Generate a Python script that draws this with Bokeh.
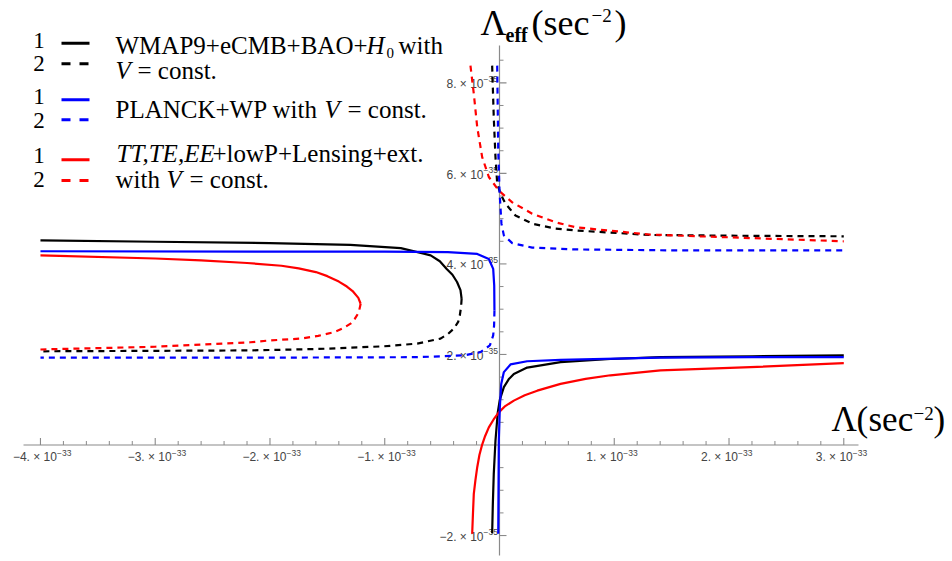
import numpy as np
from bokeh.plotting import figure
from bokeh.models import Range1d
from bokeh.core.properties import value
from bokeh.embed import file_html
from bokeh.resources import INLINE

# ---------------- DATA ----------------
# Lambda in units of 1e-33 sec^-2, Lambda_eff in units of 1e-35 sec^-2

# WMAP9+eCMB+BAO+H0 (black)
wmap_left_solid_x = [-4.0, -3.0, -2.0, -1.3, -0.86, -0.6, -0.52, -0.46, -0.41, -0.37, -0.34, -0.33]
wmap_left_solid_y = [4.52, 4.49, 4.46, 4.42, 4.35, 4.19, 4.06, 3.89, 3.76, 3.60, 3.42, 3.23]
wmap_left_dash_x = [-0.33, -0.335, -0.346, -0.36, -0.398, -0.45, -0.514, -0.717, -1.008, -1.59, -2.17, -3.0, -4.0]
wmap_left_dash_y = [3.23, 3.05, 2.86, 2.72, 2.57, 2.45, 2.35, 2.24, 2.18, 2.12, 2.09, 2.08, 2.07]
wmap_right_solid_x = [-0.064, -0.058, -0.050, -0.035, -0.015, 0.003, 0.038, 0.08, 0.125, 0.241, 0.532, 0.967, 1.403, 2.2, 3.0]
wmap_right_solid_y = [-1.95, -1.30, -0.64, 0.10, 0.72, 1.00, 1.28, 1.45, 1.57, 1.71, 1.83, 1.90, 1.94, 1.96, 1.98]
wmap_right_dash_x = [-0.064, -0.050, -0.035, -0.020, 0.009, 0.052, 0.139, 0.285, 0.488, 0.662, 1.3, 2.2, 3.0]
wmap_right_dash_y = [8.38, 7.24, 6.36, 5.77, 5.55, 5.33, 5.07, 4.89, 4.78, 4.74, 4.64, 4.62, 4.61]

# PLANCK+WP (blue)
planck_left_solid_x = [-4.0, -2.0, -1.0, -0.45, -0.194, -0.093, -0.055, -0.046, -0.044]
planck_left_solid_y = [4.28, 4.27, 4.27, 4.26, 4.22, 4.11, 3.89, 3.52, 2.97]
planck_left_dash_x = [-0.044, -0.047, -0.055, -0.084, -0.166, -0.311, -0.717, -2.0, -4.0]
planck_left_dash_y = [2.97, 2.65, 2.42, 2.20, 2.05, 1.98, 1.94, 1.93, 1.93]
planck_right_solid_x = [-0.011, -0.006, 0.003, 0.015, 0.038, 0.096, 0.241, 0.532, 1.403, 2.2, 3.0]
planck_right_solid_y = [-1.96, 0.10, 0.84, 1.35, 1.61, 1.78, 1.85, 1.88, 1.93, 1.94, 1.94]
planck_right_dash_x = [-0.020, -0.011, 0.0, 0.017, 0.038, 0.111, 0.285, 0.662, 1.5, 3.0]
planck_right_dash_y = [8.38, 6.51, 5.62, 4.89, 4.63, 4.46, 4.36, 4.32, 4.30, 4.30]

# TT,TE,EE+lowP+Lensing+ext. (red)
tt_left_solid_x = [-4.0, -3.0, -2.6, -2.2, -1.9, -1.75, -1.6, -1.5, -1.4, -1.33, -1.28, -1.23, -1.21]
tt_left_solid_y = [4.19, 4.12, 4.08, 4.02, 3.96, 3.90, 3.82, 3.73, 3.61, 3.50, 3.40, 3.25, 3.12]
tt_left_dash_x = [-1.21, -1.226, -1.26, -1.298, -1.37, -1.444, -1.58, -1.734, -2.0, -2.17, -3.0, -4.0]
tt_left_dash_y = [3.12, 2.93, 2.79, 2.68, 2.57, 2.49, 2.41, 2.35, 2.31, 2.27, 2.17, 2.11]
tt_right_solid_x = [-0.238, -0.231, -0.224, -0.21, -0.194, -0.175, -0.151, -0.125, -0.093, -0.05, -0.006,
                    0.05, 0.125, 0.22, 0.329, 0.532, 0.75, 0.967, 1.403, 2.187, 3.0]
tt_right_solid_y = [-1.96, -1.50, -1.08, -0.78, -0.49, -0.22, 0.01, 0.20, 0.39, 0.57, 0.72,
                    0.86, 0.98, 1.10, 1.20, 1.35, 1.46, 1.54, 1.65, 1.72, 1.81]
tt_right_dash_x = [-0.253, -0.224, -0.194, -0.151, -0.093, -0.006, 0.111, 0.285, 0.488, 0.662, 1.3, 2.2, 3.0]
tt_right_dash_y = [8.38, 7.76, 7.02, 6.36, 5.92, 5.62, 5.36, 5.11, 4.92, 4.81, 4.65, 4.57, 4.50]

x_major_ticks = [-4, -3, -2, -1, 1, 2, 3]
x_tick_mantissa = ["−4. × 10", "−3. × 10", "−2. × 10", "−1. × 10", "1. × 10", "2. × 10", "3. × 10"]
x_tick_exponent = "−33"
y_major_ticks = [-2, 2, 4, 6, 8]
y_tick_mantissa = ["−2. × 10", "2. × 10", "4. × 10", "6. × 10", "8. × 10"]
y_tick_exponent = "−35"

# ---------------- LAYOUT ----------------
W, H = 952, 561
PXX = 114.76   # px per x unit
PXY = 45.27    # px per y unit
OX, OY = 499.0, 444.5  # origin pixel
x_lo, x_hi = -OX / PXX, (W - OX) / PXX
y_lo, y_hi = -(H - OY) / PXY, OY / PXY


def sx(px):
    return x_lo + px / PXX


def sy(py):
    return y_hi - py / PXY


BASE_SHIFT = 0.36  # svg alphabetic baseline correction (em)


def by(py, fs):
    return sy(py - BASE_SHIFT * fs)


p = figure(width=W, height=H, x_range=Range1d(x_lo, x_hi), y_range=Range1d(y_lo, y_hi),
           output_backend="svg", toolbar_location=None,
           x_axis_location=None, y_axis_location=None, min_border=0)
p.outline_line_color = None
p.grid.visible = False
p.background_fill_color = "white"

AXIS_COLOR = "#8a8a8a"
LABEL_COLOR = "#444444"
SANS = value("Liberation Sans")

# axes
p.segment(x0=[sx(23), 0], y0=[0, sy(555)], x1=[sx(858), 0], y1=[0, sy(45)],
          line_color=AXIS_COLOR, line_width=1.2)

x_minor = [v for v in np.round(np.arange(-4.0, 3.01, 0.2), 2) if abs(v - round(v)) > 1e-6]
y_minor = [v for v in np.arange(-2.0, 8.51, 0.5) if abs(v) > 1e-6 and abs(v / 2 - round(v / 2)) > 1e-6]

p.segment(x0=x_major_ticks, y0=[0] * len(x_major_ticks), x1=x_major_ticks,
          y1=[7 / PXY] * len(x_major_ticks), line_color=AXIS_COLOR, line_width=1.1)
p.segment(x0=x_minor, y0=[0] * len(x_minor), x1=x_minor, y1=[4 / PXY] * len(x_minor),
          line_color=AXIS_COLOR, line_width=1)
p.segment(x0=[0] * len(y_major_ticks), y0=y_major_ticks, x1=[7 / PXX] * len(y_major_ticks),
          y1=y_major_ticks, line_color=AXIS_COLOR, line_width=1.1)
p.segment(x0=[0] * len(y_minor), y0=y_minor, x1=[4 / PXX] * len(y_minor), y1=y_minor,
          line_color=AXIS_COLOR, line_width=1)

# x tick labels: mantissa right-aligned, exponent left-aligned at a split point
x_split = [t + (16.5 if t < 0 else 9.0) / PXX for t in x_major_ticks]
p.text(x=x_split, y=[-12 / PXY] * len(x_major_ticks), text=x_tick_mantissa,
       text_font=SANS, text_font_size="12px", text_color=LABEL_COLOR,
       text_align="right", text_baseline="middle")
p.text(x=x_split, y=[-7.5 / PXY] * len(x_major_ticks), text=[x_tick_exponent] * len(x_major_ticks),
       text_font=SANS, text_font_size="8.5px", text_color=LABEL_COLOR,
       text_align="left", text_baseline="middle")
# y tick labels
y_split = [-16 / PXX] * len(y_major_ticks)
p.text(x=y_split, y=[t - 1.5 / PXY for t in y_major_ticks], text=y_tick_mantissa,
       text_font=SANS, text_font_size="12px", text_color=LABEL_COLOR,
       text_align="right", text_baseline="middle")
p.text(x=y_split, y=[t + 3.5 / PXY for t in y_major_ticks], text=[y_tick_exponent] * len(y_major_ticks),
       text_font=SANS, text_font_size="8.5px", text_color=LABEL_COLOR,
       text_align="left", text_baseline="middle")

# curves
SOLID_W = 2.2
DASH = "6 5"
series = [
    ("black", wmap_left_solid_x, wmap_left_solid_y, wmap_left_dash_x, wmap_left_dash_y,
     wmap_right_solid_x, wmap_right_solid_y, wmap_right_dash_x, wmap_right_dash_y),
    ("red", tt_left_solid_x, tt_left_solid_y, tt_left_dash_x, tt_left_dash_y,
     tt_right_solid_x, tt_right_solid_y, tt_right_dash_x, tt_right_dash_y),
    ("blue", planck_left_solid_x, planck_left_solid_y, planck_left_dash_x, planck_left_dash_y,
     planck_right_solid_x, planck_right_solid_y, planck_right_dash_x, planck_right_dash_y),
]
for col, lsx, lsy, ldx, ldy, rsx, rsy, rdx, rdy in series:
    p.line(lsx, lsy, line_color=col, line_width=SOLID_W, line_join="round")
    p.line(rsx, rsy, line_color=col, line_width=SOLID_W, line_join="round")
    p.line(ldx, ldy, line_color=col, line_width=SOLID_W, line_dash=DASH)
    p.line(rdx, rdy, line_color=col, line_width=SOLID_W, line_dash=DASH)

# legend (drawn by hand)
SERIF = value("Liberation Serif")
FSN = 25
FS = f"{FSN}px"
leg_colors = ["black", "blue", "red"]
leg_solid_py = [42.7, 99.3, 159.3]
leg_dash_py = [63.3, 119.3, 180.0]
num1_py = [48.5, 104.5, 163.5]
num2_py = [71.0, 128.0, 187.0]
for c, ys, yd in zip(leg_colors, leg_solid_py, leg_dash_py):
    p.line([sx(61), sx(89)], [sy(ys), sy(ys)], line_color=c, line_width=3)
    p.line([sx(61), sx(88)], [sy(yd), sy(yd)], line_color=c, line_width=3, line_dash="9 9")
p.text(x=[sx(38.5)] * 6, y=[by(v, 23) for v in num1_py + num2_py], text=["1"] * 3 + ["2"] * 3,
       text_font=SERIF, text_font_size="23px", text_align="center", text_baseline="alphabetic",
       text_color="black")

upright = [("WMAP9+eCMB+BAO+", 115, 53.5), ("with", 398, 53.5), ("= const.", 137, 79),
           ("PLANCK+WP with", 115, 118.3), ("= const.", 347, 118.3),
           ("+lowP+Lensing+ext.", 212, 162), ("with", 115, 188), ("= const.", 189, 188)]
italic = [("H", 366, 53.5), ("V", 115, 79), ("V", 324, 118.3), ("TT,TE,EE", 116, 162), ("V", 166, 188)]
p.text(x=[sx(t[1]) for t in upright], y=[by(t[2], FSN) for t in upright], text=[t[0] for t in upright],
       text_font=SERIF, text_font_size=FS, text_baseline="alphabetic", text_color="black")
p.text(x=[sx(t[1]) for t in italic], y=[by(t[2], FSN) for t in italic], text=[t[0] for t in italic],
       text_font=SERIF, text_font_size=FS, text_font_style="italic", text_baseline="alphabetic",
       text_color="black")
p.text(x=[sx(386)], y=[by(58, 15)], text=["0"], text_font=SERIF, text_font_size="15px",
       text_baseline="alphabetic", text_color="black")

# axis titles
TFN = 36
p.text(x=[sx(480), sx(531), sx(543), sx(614)],
       y=[by(35, TFN)] * 4,
       text=["Λ", "(", "sec", ")"],
       text_font=SERIF, text_font_size=f"{TFN}px", text_baseline="alphabetic", text_color="black")
p.text(x=[sx(831), sx(856), sx(868), sx(933)],
       y=[by(432, 35)] * 4,
       text=["Λ", "(", "sec", ")"],
       text_font=SERIF, text_font_size="35px", text_baseline="alphabetic", text_color="black")
p.text(x=[sx(591), sx(913)], y=[by(22, 19), by(420, 19)], text=["−2", "−2"],
       text_font=SERIF, text_font_size="19px", text_baseline="alphabetic", text_color="black")
p.text(x=[sx(505)], y=[by(42, 20)], text=["eff"], text_font=SERIF, text_font_size="20px",
       text_font_style="bold", text_baseline="alphabetic", text_color="black")

open("out.html", "w").write(file_html(p, INLINE))
